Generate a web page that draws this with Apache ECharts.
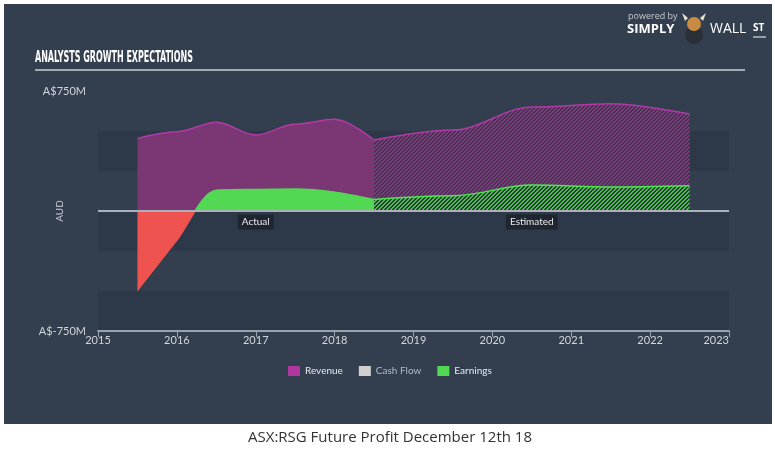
<!DOCTYPE html>
<html>
<head>
<meta charset="utf-8">
<script src="https://cdn.jsdelivr.net/npm/echarts@6/dist/echarts.min.js"></script>
<style>
  html, body { margin: 0; padding: 0; background: #ffffff; }
  #panel { position: absolute; left: 4px; top: 4px; width: 768px; height: 420px; background: #333f4f; }
  #chart { position: absolute; left: 0; top: 0; width: 775px; height: 450px; }
</style>
</head>
<body>
<div id="panel"></div>
<div id="chart"></div>
<script>
// ---- data (years as decimal, values in A$ millions) ----
const yearTicks = [2015, 2016, 2017, 2018, 2019, 2020, 2021, 2022, 2023];
const revenueActual = [[2015.5, 454], [2016.0, 496], [2016.5, 554], [2017.0, 475], [2017.5, 542], [2018.0, 573], [2018.5, 444]];
const revenueEstimated = [[2018.5, 444], [2019.5, 506], [2020.5, 650], [2021.5, 670], [2022.5, 606]];
const earningsActual = [[2015.5, -495], [2016.0, -182], [2016.5, 130], [2017.0, 135], [2017.5, 137], [2018.0, 118], [2018.5, 72]];
const earningsEstimated = [[2018.5, 72], [2019.5, 95], [2020.5, 163], [2021.5, 150], [2022.5, 158]];
const cashFlow = [];
const sectionLabels = [{ name: 'Actual', year: 2017.0 }, { name: 'Estimated', year: 2020.5 }];
const yLabels = { '750': 'A$750M', '-750': 'A$-750M' };

function hatch(fg, bg) {
  const c = document.createElement('canvas');
  c.width = 4; c.height = 4;
  const g = c.getContext('2d');
  g.fillStyle = bg; g.fillRect(0, 0, 4, 4);
  g.fillStyle = fg;
  for (let i = 0; i < 4; i++) { g.fillRect(i, 3 - i, 1, 1); g.fillRect(i, (4 - i) % 4, 1, 1); }
  return c;
}
const revHatch = hatch('#8c3683', '#363a4c');
const earnHatch = hatch('#47c047', '#2c383d');

// title width fitting (condensed heading)
const titleText = 'ANALYSTS GROWTH EXPECTATIONS';
const titleFont = 'bold 16px "Liberation Sans Narrow", "DejaVu Sans Condensed", sans-serif';
const mc = document.createElement('canvas').getContext('2d');
mc.font = titleFont;
const titleScale = 158 / mc.measureText(titleText).width;

const chart = echarts.init(document.getElementById('chart'), null, { renderer: 'canvas' });
const REV_FILL = '#7b3773', REV_LINE = '#b23aa6', GREEN = '#53d853', RED = '#ef5350';

chart.setOption({
  backgroundColor: 'transparent',
  animation: false,
  textStyle: { fontFamily: 'Lato, sans-serif' },
  grid: { left: 98, right: 46, top: 91, bottom: 119 },
  xAxis: {
    type: 'value', min: yearTicks[0], max: yearTicks[yearTicks.length - 1], interval: 1,
    axisLine: { show: true, onZero: false, lineStyle: { color: '#9aa3ad', width: 2 } },
    axisTick: { show: true, length: 6, lineStyle: { color: '#9aa3ad', width: 1 } },
    axisLabel: { color: '#d2d6da', fontSize: 11, margin: 4, formatter: v => String(v), alignMaxLabel: 'right', showMinLabel: true, showMaxLabel: true },
    splitLine: { show: false }
  },
  yAxis: {
    type: 'value', min: -750, max: 750, interval: 250,
    name: 'AUD', nameLocation: 'middle', nameGap: 33, nameRotate: 90, nameMoveOverlap: false,
    nameTextStyle: { color: '#c8cdd2', fontSize: 10 },
    axisLine: { show: false }, axisTick: { show: false },
    axisLabel: { color: '#d2d6da', fontSize: 11, margin: 12, formatter: v => yLabels[String(v)] || '' },
    splitLine: { show: false },
    splitArea: { show: true, areaStyle: { color: ['rgba(20,28,38,0.16)', 'rgba(0,0,0,0)'] } }
  },
  visualMap: {
    type: 'piecewise', show: false, seriesIndex: 2, dimension: 1,
    pieces: [{ gte: -1000, lt: 0, color: RED }, { gte: 0, lte: 1000, color: GREEN }]
  },
  legend: {
    data: [
      { name: 'Revenue', itemStyle: { color: '#b0379f' } },
      { name: 'Cash Flow', itemStyle: { color: '#d0d0d0' }, textStyle: { color: '#b4bac1' } },
      { name: 'Earnings', itemStyle: { color: GREEN } }
    ],
    left: 283, top: 361, icon: 'rect', itemWidth: 12, itemHeight: 10, itemGap: 16,
    textStyle: { color: '#e6e9ec', fontSize: 10 }
  },
  series: [
    {
      name: 'Revenue', type: 'line', data: revenueActual, smooth: 0.35, smoothMonotone: 'x', showSymbol: false,
      lineStyle: { color: REV_LINE, width: 1.5 }, itemStyle: { color: REV_FILL },
      areaStyle: { color: REV_FILL, opacity: 1 }, z: 2
    },
    {
      name: 'Revenue', type: 'line', data: revenueEstimated, smooth: 0.35, smoothMonotone: 'x', showSymbol: false,
      lineStyle: { color: REV_LINE, width: 1.5 }, itemStyle: { color: REV_FILL },
      areaStyle: { color: { image: revHatch, repeat: 'repeat' }, opacity: 1 }, z: 2
    },
    {
      name: 'Earnings', type: 'line', data: earningsActual, smooth: 0.3, showSymbol: false,
      lineStyle: { width: 1.5 }, itemStyle: { color: GREEN },
      areaStyle: { opacity: 1 }, z: 3
    },
    {
      name: 'Earnings', type: 'line', data: earningsEstimated, smooth: 0.35, smoothMonotone: 'x', showSymbol: false,
      lineStyle: { color: '#4ee84e', width: 1.5 }, itemStyle: { color: GREEN },
      areaStyle: { color: { image: earnHatch, repeat: 'repeat' }, opacity: 1 }, z: 3,
      markLine: {
        silent: true, symbol: 'none', label: { show: false },
        lineStyle: { color: '#aab1b9', width: 2, type: 'solid' },
        data: [{ yAxis: 0 }], z: 10
      },
      markPoint: {
        silent: true, symbol: 'rect', symbolSize: 1, itemStyle: { color: 'rgba(0,0,0,0)' },
        label: {
          show: true, position: 'inside', offset: [0, 11], formatter: '{b}',
          color: '#e8eaec', fontSize: 10, backgroundColor: '#1f262f', padding: [3, 4, 2, 4]
        },
        data: sectionLabels.map(s => ({ name: s.name, coord: [s.year, 0] })), z: 10
      }
    },
    {
      name: 'Cash Flow', type: 'line', data: cashFlow, showSymbol: false,
      itemStyle: { color: '#d0d0d0' }, lineStyle: { color: '#d0d0d0' }
    }
  ],
  graphic: [
    { type: 'text', left: 35, top: 50, style: { text: titleText, font: titleFont, fill: '#ffffff' }, scaleX: titleScale, originX: 0 },
    { type: 'line', shape: { x1: 35, y1: 70, x2: 745, y2: 70 }, style: { stroke: '#a3abb4', lineWidth: 2 } },
    { type: 'text', left: 628, top: 12, style: { text: 'powered by', font: '9px "Open Sans", sans-serif', fill: '#c4c9ce' } },
    { type: 'text', left: 627, top: 23, style: { text: 'SIMPLY', font: 'bold 13px "Open Sans", sans-serif', fill: '#ffffff' } },
    { type: 'circle', shape: { cx: 694, cy: 35, r: 9 }, style: { fill: '#2a2f38' } },
    { type: 'circle', shape: { cx: 694, cy: 24, r: 7 }, style: { fill: '#c98a44' } },
    { type: 'polygon', shape: { points: [[685, 21], [682, 13], [688, 18]] }, style: { fill: '#e8e0d0' } },
    { type: 'polygon', shape: { points: [[703, 21], [706, 13], [700, 18]] }, style: { fill: '#e8e0d0' } },
    { type: 'text', left: 710, top: 22, style: { text: 'WALL', font: '14px "Open Sans", sans-serif', fill: '#ffffff' } },
    { type: 'text', left: 753, top: 23, style: { text: 'ST', font: 'bold 10px "Open Sans", sans-serif', fill: '#ffffff' } },
    { type: 'line', shape: { x1: 753, y1: 37, x2: 766, y2: 37 }, style: { stroke: '#ffffff', lineWidth: 1 } },
    { type: 'text', x: 390, y: 438, style: { text: 'ASX:RSG Future Profit December 12th 18', font: '15px "Open Sans", sans-serif', fill: '#333333', align: 'center', verticalAlign: 'middle' } }
  ]
});
</script>
</body>
</html>
